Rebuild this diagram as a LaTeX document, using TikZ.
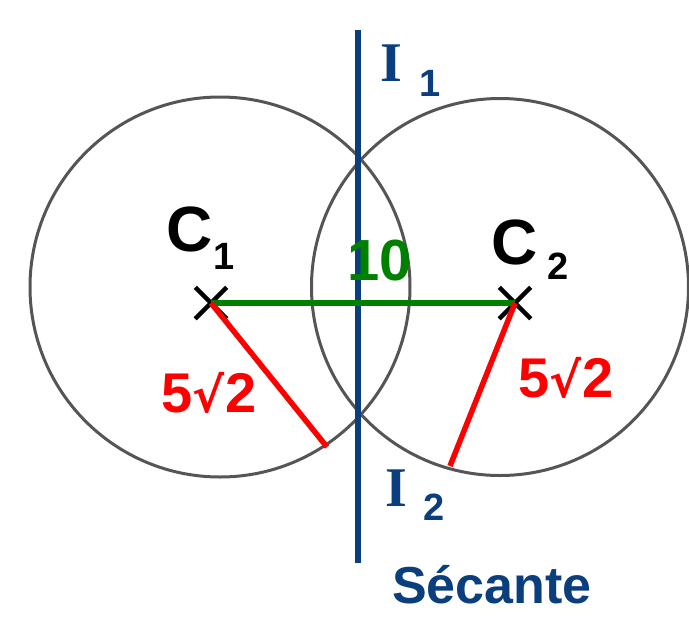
\documentclass[tikz,border=0pt]{standalone}
\usepackage{fontspec}
\setmainfont{Liberation Sans}
\newfontfamily\serifI{Liberation Serif}
\newfontfamily\symf{DejaVu Sans}
\usetikzlibrary{shapes.misc}
\definecolor{circgray}{RGB}{85,85,85}
\definecolor{dblue}{RGB}{10,62,125}
\definecolor{dgreen}{RGB}{0,128,0}
\definecolor{hred}{RGB}{255,0,0}
\tikzset{
  circ/.style={draw=circgray, line width=3pt},
  crossmark/.style={cross out, draw=black, line width=4.5pt, minimum size=27pt, inner sep=0pt},
  lbl/.style={inner sep=0pt, anchor=center},
  big/.style={font=\bfseries\fontsize{64}{64}\selectfont},
  sub/.style={font=\bfseries\fontsize{38}{38}\selectfont},
  stroke/.style={line width=5.5pt},
}
\begin{document}
\begin{tikzpicture}[x=1pt,y=-1pt]
\useasboundingbox (0,0) rectangle (689,622);
% circles
\node[circ, circle, minimum size=380pt, inner sep=0pt] (k1) at (220,287) {};
\node[circ, circle, minimum size=377pt, inner sep=0pt] (k2) at (500,287) {};
% secant line
\coordinate (st) at (358,30);
\coordinate (sb) at (358,563);
\draw[dblue, stroke] (st) -- (sb);
% centres
\node[crossmark] (c1) at (211,303) {};
\node[crossmark] (c2) at (515,303) {};
\draw[dgreen, stroke] (c1.center) -- (c2.center);
\coordinate (r1) at (327,447);
\coordinate (r2) at (450,466);
\draw[hred, stroke] (c1.center) -- (r1);
\draw[hred, stroke] (c2.center) -- (r2);
% labels
\node[lbl, big] (C1) at (190,229) {C};
\node[lbl, sub] (C1s) at (224,256) {1};
\node[lbl, big] (C2) at (515,242) {C};
\node[lbl, sub] (C2s) at (558,266) {2};
\node[lbl, text=dgreen, font=\bfseries\fontsize{58}{58}\selectfont] (ten) at (380,261) {10};
\node[lbl, text=hred, font=\bfseries\fontsize{56}{56}\selectfont] (rad1) at (209,393) {5{\symf\fontsize{48}{48}\selectfont √}2};
\node[lbl, text=hred, font=\bfseries\fontsize{56}{56}\selectfont] (rad2) at (566,378) {5{\symf\fontsize{48}{48}\selectfont √}2};
\node[lbl, text=dblue, font=\serifI\bfseries\fontsize{56}{56}\selectfont] (I1) at (391,63) {I};
\node[lbl, text=dblue, sub] (I1s) at (430,83) {1};
\node[lbl, text=dblue, font=\serifI\bfseries\fontsize{56}{56}\selectfont] (I2) at (396,488) {I};
\node[lbl, text=dblue, sub] (I2s) at (434,507) {2};
\node[lbl, text=dblue, font=\bfseries\fontsize{52}{52}\selectfont] (sec) at (492,585) {Sécante};
\end{tikzpicture}
\end{document}
